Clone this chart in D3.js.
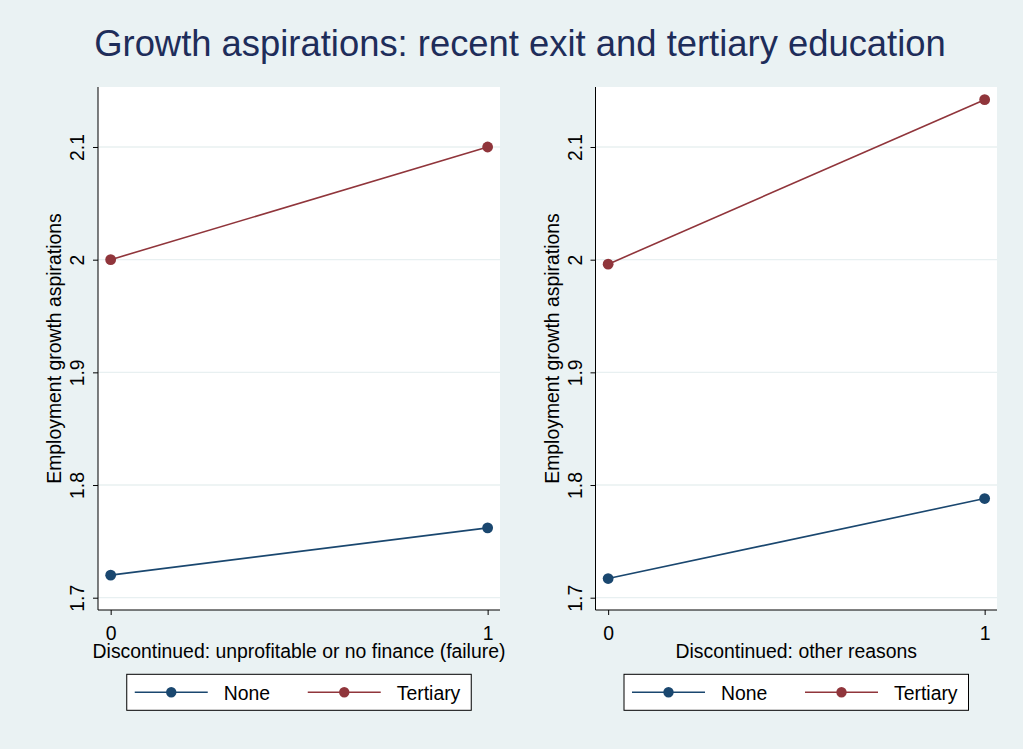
<!DOCTYPE html>
<html>
<head>
<meta charset="utf-8">
<script src="https://cdn.jsdelivr.net/npm/d3@7/dist/d3.min.js"></script>
<style>
  html, body { margin: 0; padding: 0; background: #eaf2f3; }
  svg { display: block; }
  text { font-family: "Liberation Sans", Arial, sans-serif; }
</style>
</head>
<body>
<svg id="chart" width="1023" height="749"></svg>
<script>
// ---- Data ----
const categories = [0, 1];
const seriesNames = ["None", "Tertiary"];
const panelTitles = ["Discontinued: unprofitable or no finance (failure)", "Discontinued: other reasons"];
const noneFailure = [1.720, 1.762];
const tertiaryFailure = [2.000, 2.100];
const noneOther = [1.717, 1.788];
const tertiaryOther = [1.996, 2.142];
const yTicks = [1.7, 1.8, 1.9, 2.0, 2.1];
const xTicks = [0, 1];
const chartTitle = "Growth aspirations: recent exit and tertiary education";
const yTitle = "Employment growth aspirations";

const colors = ["#1a476f", "#90353b"];
const panelData = [
  [noneFailure, tertiaryFailure],
  [noneOther, tertiaryOther]
];

const svg = d3.select("#chart");
svg.append("rect").attr("width", 1023).attr("height", 749).attr("fill", "#eaf2f3");

svg.append("text")
  .attr("x", 520).attr("y", 56)
  .attr("text-anchor", "middle")
  .attr("font-size", 36.4)
  .attr("fill", "#1e2d5a")
  .text(chartTitle);

const panels = [
  { x0: 98, x1: 500 },
  { x0: 595.5, x1: 997 }
];
const plotTop = 87, plotBottom = 610;
const fs = 19.4;

const y = d3.scaleLinear().domain([1.68908, 2.15325]).range([plotBottom, plotTop]);

panels.forEach((p, i) => {
  const x = d3.scaleLinear().domain([-0.0336, 1.0328]).range([p.x0, p.x1]);
  const g = svg.append("g");

  // plot region
  g.append("rect")
    .attr("x", p.x0).attr("y", plotTop)
    .attr("width", p.x1 - p.x0).attr("height", plotBottom - plotTop)
    .attr("fill", "#ffffff");

  // gridlines
  g.selectAll("line.grid").data(yTicks).enter().append("line")
    .attr("class", "grid")
    .attr("x1", p.x0).attr("x2", p.x1)
    .attr("y1", d => y(d)).attr("y2", d => y(d))
    .attr("stroke", "#e8f0f1").attr("stroke-width", 1.3);

  // y axis
  const yAxis = g.append("g")
    .attr("transform", `translate(${p.x0},0)`)
    .call(d3.axisLeft(y).tickValues(yTicks).tickSize(5).tickSizeOuter(0).tickFormat(d => String(+d.toFixed(1))));
  yAxis.select(".domain").attr("stroke", "#000").attr("d", `M0,${plotTop}V${plotBottom}`);
  yAxis.selectAll(".tick line").attr("stroke", "#000");
  yAxis.selectAll(".tick text")
    .attr("transform", "rotate(-90)")
    .attr("x", 0).attr("y", -14).attr("dy", 0)
    .attr("text-anchor", "middle")
    .attr("font-size", fs)
    .attr("font-family", "Liberation Sans, Arial, sans-serif")
    .attr("fill", "#000");

  // x axis
  const xAxis = g.append("g")
    .attr("transform", `translate(0,${plotBottom})`)
    .call(d3.axisBottom(x).tickValues(xTicks).tickSize(5).tickSizeOuter(0).tickFormat(d3.format("d")));
  xAxis.select(".domain").attr("stroke", "#000").attr("d", `M${p.x0},0H${p.x1}`);
  xAxis.selectAll(".tick line").attr("stroke", "#000");
  xAxis.selectAll(".tick text")
    .attr("y", 30).attr("dy", 0)
    .attr("font-size", fs)
    .attr("font-family", "Liberation Sans, Arial, sans-serif")
    .attr("fill", "#000");

  // axis titles
  g.append("text")
    .attr("x", (p.x0 + p.x1) / 2).attr("y", 657.5)
    .attr("text-anchor", "middle").attr("font-size", fs).attr("fill", "#000")
    .text(panelTitles[i]);
  g.append("text")
    .attr("transform", `translate(${p.x0 - 37},${(plotTop + plotBottom) / 2}) rotate(-90)`)
    .attr("text-anchor", "middle").attr("font-size", fs).attr("fill", "#000")
    .text(yTitle);

  // series
  const line = d3.line().x((d, k) => x(categories[k])).y(d => y(d));
  panelData[i].forEach((vals, s) => {
    g.append("path").datum(vals)
      .attr("d", line).attr("fill", "none")
      .attr("stroke", colors[s]).attr("stroke-width", 1.6);
    g.selectAll(null).data(vals).enter().append("circle")
      .attr("cx", (d, k) => x(categories[k])).attr("cy", d => y(d))
      .attr("r", 5.4).attr("fill", colors[s]);
  });

  // legend
  const lw = 344.5, lh = 36;
  const lx = (p.x0 + p.x1) / 2 - lw / 2, ly = 674.3;
  const lg = g.append("g").attr("transform", `translate(${lx},${ly})`);
  lg.append("rect").attr("width", lw).attr("height", lh)
    .attr("fill", "#fff").attr("stroke", "#000").attr("stroke-width", 1);
  seriesNames.forEach((name, s) => {
    const off = s * 173;
    lg.append("line").attr("x1", 8 + off).attr("x2", 81 + off)
      .attr("y1", 18).attr("y2", 18)
      .attr("stroke", colors[s]).attr("stroke-width", 1.6);
    lg.append("circle").attr("cx", 44.5 + off).attr("cy", 18).attr("r", 5.2).attr("fill", colors[s]);
    lg.append("text").attr("x", 97 + off).attr("y", 25.7)
      .attr("font-size", fs).attr("fill", "#000").text(name);
  });
});
</script>
</body>
</html>
